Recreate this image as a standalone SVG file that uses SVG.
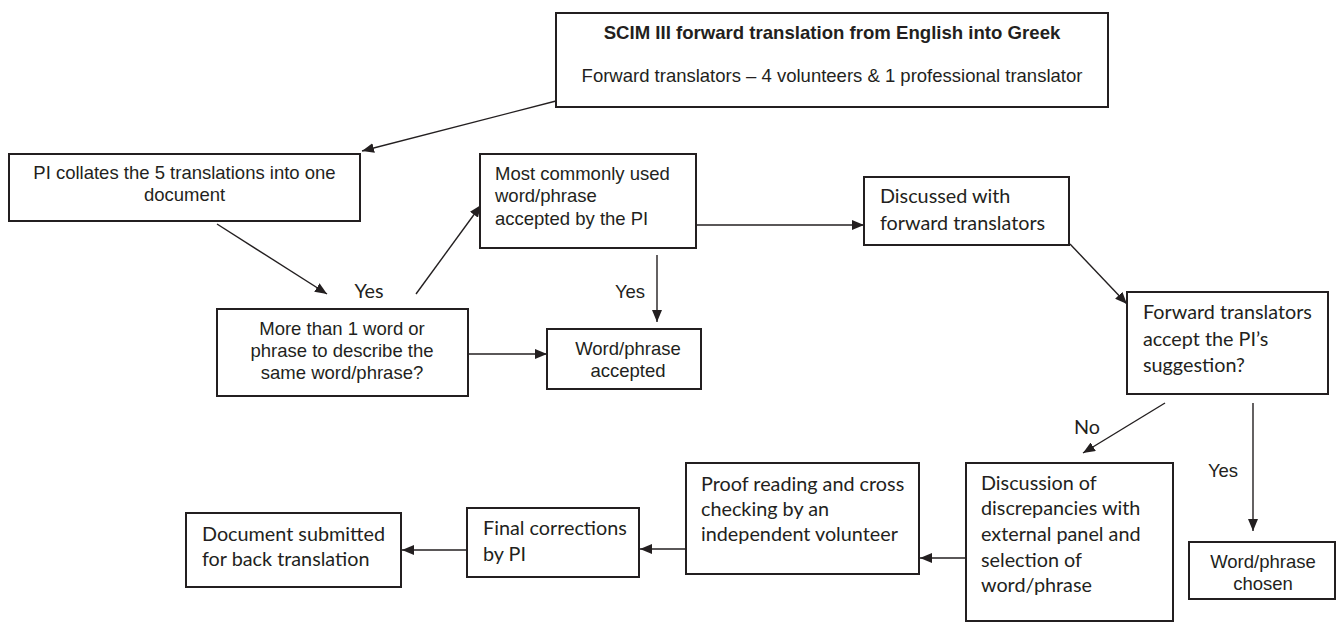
<svg xmlns="http://www.w3.org/2000/svg" width="1337" height="624" viewBox="0 0 1337 624">
<style>
.box{fill:#fff;stroke:#231f20;stroke-width:2}
.a{font-family:"Liberation Sans",Arial,sans-serif;font-size:18.5px;fill:#231f20}
.b{font-family:"Liberation Sans",Arial,sans-serif;font-size:18.6px;font-weight:bold;fill:#231f20}
.c{font-family:Lato,"Open Sans",sans-serif;font-size:19.8px;fill:#231f20}
.mid{text-anchor:middle}
.ln{stroke:#231f20;stroke-width:1.4;fill:none}
</style>
<defs>
<marker id="ah" viewBox="0 0 12 10" refX="12" refY="5" markerWidth="12" markerHeight="10" markerUnits="userSpaceOnUse" orient="auto">
<path d="M0,0 L12,5 L0,10 Z" fill="#231f20"/>
</marker>
</defs>
<g id="connectors">
<line class="ln" x1="556" y1="101" x2="362" y2="151" marker-end="url(#ah)"/>
<line class="ln" x1="217" y1="224" x2="327" y2="294" marker-end="url(#ah)"/>
<line class="ln" x1="416" y1="294" x2="481" y2="205" marker-end="url(#ah)"/>
<line class="ln" x1="468" y1="354" x2="547" y2="354" marker-end="url(#ah)"/>
<line class="ln" x1="657" y1="255" x2="657" y2="322" marker-end="url(#ah)"/>
<line class="ln" x1="696" y1="225" x2="864" y2="225" marker-end="url(#ah)"/>
<line class="ln" x1="1070" y1="244" x2="1127" y2="304" marker-end="url(#ah)"/>
<line class="ln" x1="1165" y1="403" x2="1083" y2="453" marker-end="url(#ah)"/>
<line class="ln" x1="1253" y1="403" x2="1253" y2="531" marker-end="url(#ah)"/>
<line class="ln" x1="966" y1="558" x2="920" y2="558" marker-end="url(#ah)"/>
<line class="ln" x1="686" y1="549" x2="640" y2="549" marker-end="url(#ah)"/>
<line class="ln" x1="467" y1="550" x2="402" y2="550" marker-end="url(#ah)"/>
<text class="c mid" x="369" y="298">Yes</text>
<text class="a mid" x="630" y="298">Yes</text>
<text class="c mid" x="1087" y="434">No</text>
<text class="a mid" x="1223" y="477">Yes</text>
</g>
<g id="n-top">
<rect class="box" x="556" y="13" width="552" height="94"/>
<text class="b mid" x="832" y="39">SCIM III forward translation from English into Greek</text>
<text class="a mid" x="832" y="82">Forward translators – 4 volunteers &amp; 1 professional translator</text>
</g>
<g id="n-collate">
<rect class="box" x="9" y="154" width="351" height="67"/>
<text class="a mid" x="184.5" y="179">PI collates the 5 translations into one</text>
<text class="a mid" x="184.5" y="201">document</text>
</g>
<g id="n-more">
<rect class="box" x="217" y="309" width="251" height="87"/>
<text class="a mid" x="342" y="335">More than 1 word or</text>
<text class="a mid" x="342" y="357">phrase to describe the</text>
<text class="a mid" x="342" y="379">same word/phrase?</text>
</g>
<g id="n-common">
<rect class="box" x="480" y="154" width="216" height="94"/>
<text class="a" x="495" y="180">Most commonly used</text>
<text class="a" x="495" y="202">word/phrase</text>
<text class="a" x="495" y="225">accepted by the PI</text>
</g>
<g id="n-accepted">
<rect class="box" x="547" y="329" width="154" height="60"/>
<text class="a mid" x="628" y="355">Word/phrase</text>
<text class="a mid" x="628" y="377">accepted</text>
</g>
<g id="n-discussed">
<rect class="box" x="864" y="177" width="205" height="68"/>
<text class="c" x="880" y="203">Discussed with</text>
<text class="c" x="880" y="230">forward translators</text>
</g>
<g id="n-ftaccept">
<rect class="box" x="1127" y="292" width="201" height="102"/>
<text class="c" x="1143" y="319">Forward translators</text>
<text class="c" x="1143" y="346">accept the PI’s</text>
<text class="c" x="1143" y="372">suggestion?</text>
</g>
<g id="n-chosen">
<rect class="box" x="1189" y="542" width="146" height="57"/>
<text class="a mid" x="1263" y="568">Word/phrase</text>
<text class="a mid" x="1263" y="590">chosen</text>
</g>
<g id="n-discussion">
<rect class="box" x="966" y="463" width="207" height="158"/>
<text class="c" x="981" y="490">Discussion of</text>
<text class="c" x="981" y="515">discrepancies with</text>
<text class="c" x="981" y="541">external panel and</text>
<text class="c" x="981" y="567">selection of</text>
<text class="c" x="981" y="592">word/phrase</text>
</g>
<g id="n-proof">
<rect class="box" x="686" y="463" width="233" height="111"/>
<text class="c" x="701" y="491">Proof reading and cross</text>
<text class="c" x="701" y="516">checking by an</text>
<text class="c" x="701" y="541">independent volunteer</text>
</g>
<g id="n-final">
<rect class="box" x="467" y="508" width="172" height="69"/>
<text class="c" x="483" y="535">Final corrections</text>
<text class="c" x="483" y="561">by PI</text>
</g>
<g id="n-document">
<rect class="box" x="186" y="513" width="215" height="74"/>
<text class="c" x="202" y="541">Document submitted</text>
<text class="c" x="202" y="566">for back translation</text>
</g>
</svg>
